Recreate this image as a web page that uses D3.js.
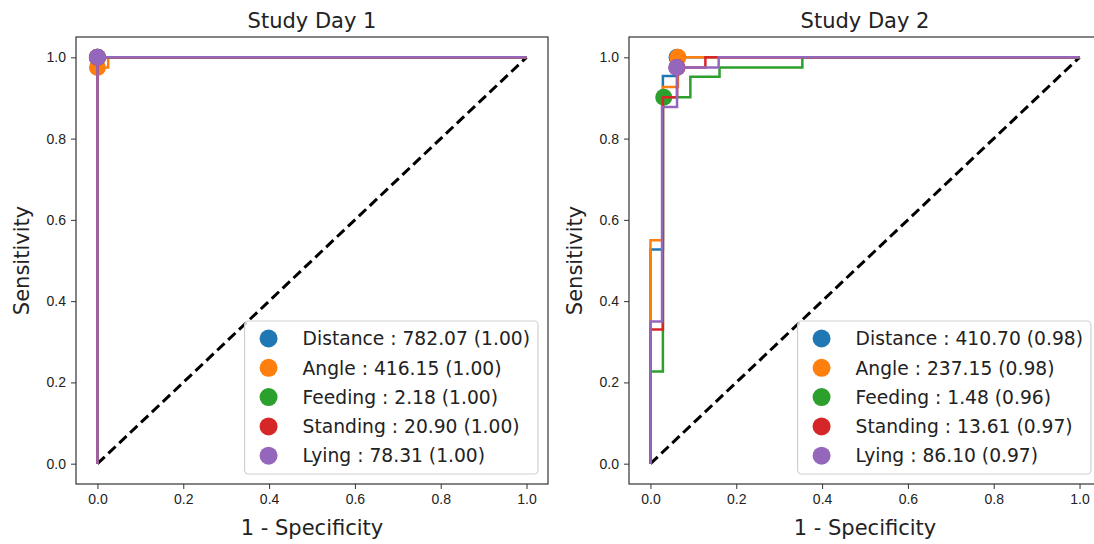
<!DOCTYPE html>
<html>
<head>
<meta charset="utf-8">
<script src="https://cdn.jsdelivr.net/npm/d3@7"></script>
<style>
	body { margin: 0; background: #fff; }
	svg { display: block; font-family: "DejaVu Sans", sans-serif; }
	.tick text { font-size: 14px; fill: #222; }
	.tick line { stroke: #333; }
</style>
</head>
<body>
<svg id="chart" width="1094" height="544"></svg>
<script>
//chart values
var days = ["Study Day 1", "Study Day 2"];
var features = ["Distance", "Angle", "Feeding", "Standing", "Lying"];
var colors = ["#1f77b4", "#ff7f0e", "#2ca02c", "#d62728", "#9467bd"];
var tickValues = [0, 0.2, 0.4, 0.6, 0.8, 1.0];

var thresholdsDay1 = ["782.07", "416.15", "2.18", "20.90", "78.31"];
var aucDay1 = ["1.00", "1.00", "1.00", "1.00", "1.00"];
var thresholdsDay2 = ["410.70", "237.15", "1.48", "13.61", "86.10"];
var aucDay2 = ["0.98", "0.98", "0.96", "0.97", "0.97"];

//ROC points (fpr, tpr) per feature
var fprDay1 = [
	[0, 0, 1],
	[0, 0, 0.025, 0.025, 1],
	[0, 0, 1],
	[0, 0, 1],
	[0, 0, 1]
];
var tprDay1 = [
	[0, 1, 1],
	[0, 0.975, 0.975, 1, 1],
	[0, 1, 1],
	[0, 1, 1],
	[0, 1, 1]
];
var fprDay2 = [
	[0, 0, 0.029, 0.029, 0.062, 0.062, 1],
	[0, 0, 0.029, 0.029, 0.064, 0.064, 1],
	[0, 0, 0.029, 0.029, 0.093, 0.093, 0.161, 0.161, 0.354, 0.354, 1],
	[0, 0, 0.029, 0.029, 0.062, 0.062, 0.128, 0.128, 1],
	[0, 0, 0.027, 0.027, 0.062, 0.062, 0.159, 0.159, 1]
];
var tprDay2 = [
	[0, 0.527, 0.527, 0.954, 0.954, 1, 1],
	[0, 0.55, 0.55, 0.927, 0.927, 1, 1],
	[0, 0.227, 0.227, 0.902, 0.902, 0.952, 0.952, 0.975, 0.975, 1, 1],
	[0, 0.33, 0.33, 0.902, 0.902, 0.975, 0.975, 1, 1],
	[0, 0.35, 0.35, 0.878, 0.878, 0.975, 0.975, 1, 1]
];
//optimal cut-off points
var cutFprDay1 = [0, 0, 0, 0, 0];
var cutTprDay1 = [1, 0.975, 1, 1, 1];
var cutFprDay2 = [0.062, 0.064, 0.031, 0.062, 0.061];
var cutTprDay2 = [1, 1, 0.902, 0.975, 0.975];

var svg = d3.select("#chart");

drawPanel = function(left, title, fpr, tpr, cutFpr, cutTpr, thresholds, auc, idx){
	var w = 472, top = 37, h = 447;
	var x = d3.scaleLinear().domain([-0.05, 1.05]).range([left, left + w]);
	var y = d3.scaleLinear().domain([-0.05, 1.05]).range([top + h, top]);
	var g = svg.append("g");

	g.append("clipPath").attr("id", "clip" + idx)
		.append("rect").attr("x", left).attr("y", top).attr("width", w).attr("height", h);

	var plot = g.append("g").attr("clip-path", "url(#clip" + idx + ")");

	//chance diagonal
	plot.append("line")
		.attr("x1", x(0)).attr("y1", y(0))
		.attr("x2", x(1)).attr("y2", y(1))
		.style("stroke", "black")
		.style("stroke-width", 3)
		.style("stroke-dasharray", "10,5");

	var line = d3.line()
		.x(function(d){ return x(d[0]); })
		.y(function(d){ return y(d[1]); });

	for(var i = 0; i < features.length; i++){
		var pts = d3.zip(fpr[i], tpr[i]);
		plot.append("path")
			.attr("d", line(pts))
			.style("fill", "none")
			.style("stroke", colors[i])
			.style("stroke-width", 2.5);
		plot.append("circle")
			.attr("cx", x(cutFpr[i]))
			.attr("cy", y(cutTpr[i]))
			.attr("r", 8.5)
			.style("fill", colors[i]);
	}

	//frame
	g.append("rect")
		.attr("x", left).attr("y", top).attr("width", w).attr("height", h)
		.style("fill", "none").style("stroke", "#333").style("stroke-width", 1.2);

	g.append("g")
		.attr("transform", "translate(0," + (top + h) + ")")
		.call(d3.axisBottom(x).tickValues(tickValues).tickFormat(d3.format(".1f")).tickSize(5).tickPadding(5))
		.call(function(a){ a.select(".domain").remove(); });
	g.append("g")
		.attr("transform", "translate(" + left + ",0)")
		.call(d3.axisLeft(y).tickValues(tickValues).tickFormat(d3.format(".1f")).tickSize(5).tickPadding(5))
		.call(function(a){ a.select(".domain").remove(); });

	g.append("text")
		.attr("x", left + w / 2).attr("y", 28)
		.attr("text-anchor", "middle")
		.style("font-size", "21px").style("fill", "#222")
		.text(title);
	g.append("text")
		.attr("x", left + w / 2).attr("y", 535)
		.attr("text-anchor", "middle")
		.style("font-size", "21px").style("fill", "#222")
		.text("1 - Specificity");
	g.append("text")
		.attr("transform", "translate(" + (left - 47) + "," + (top + h / 2) + ") rotate(-90)")
		.attr("text-anchor", "middle")
		.style("font-size", "21px").style("fill", "#222")
		.text("Sensitivity");

	//legend
	var leg = g.append("g");
	var box = leg.append("rect");
	var rowH = 29.3, maxW = 0;
	for(var j = 0; j < features.length; j++){
		leg.append("circle")
			.attr("cx", 24).attr("cy", 17.5 + j * rowH)
			.attr("r", 9).style("fill", colors[j]);
		var t = leg.append("text")
			.attr("x", 58).attr("y", 17.5 + j * rowH)
			.attr("dy", "0.36em")
			.style("font-size", "18.7px").style("fill", "#222")
			.text(features[j] + " : " + thresholds[j] + " (" + auc[j] + ")");
		maxW = Math.max(maxW, t.node().getComputedTextLength());
	}
	var bw = 58 + maxW + 8, bh = 153;
	box.attr("x", 0).attr("y", 0).attr("width", bw).attr("height", bh)
		.attr("rx", 4)
		.style("fill", "white").style("fill-opacity", 0.8)
		.style("stroke", "#d0d0d0").style("stroke-width", 1.2);
	leg.attr("transform", "translate(" + (left + w - 10 - bw) + "," + (top + h - 10 - bh) + ")");
}

drawPanel(76, days[0], fprDay1, tprDay1, cutFprDay1, cutTprDay1, thresholdsDay1, aucDay1, 0);
drawPanel(629, days[1], fprDay2, tprDay2, cutFprDay2, cutTprDay2, thresholdsDay2, aucDay2, 1);
</script>
</body>
</html>
